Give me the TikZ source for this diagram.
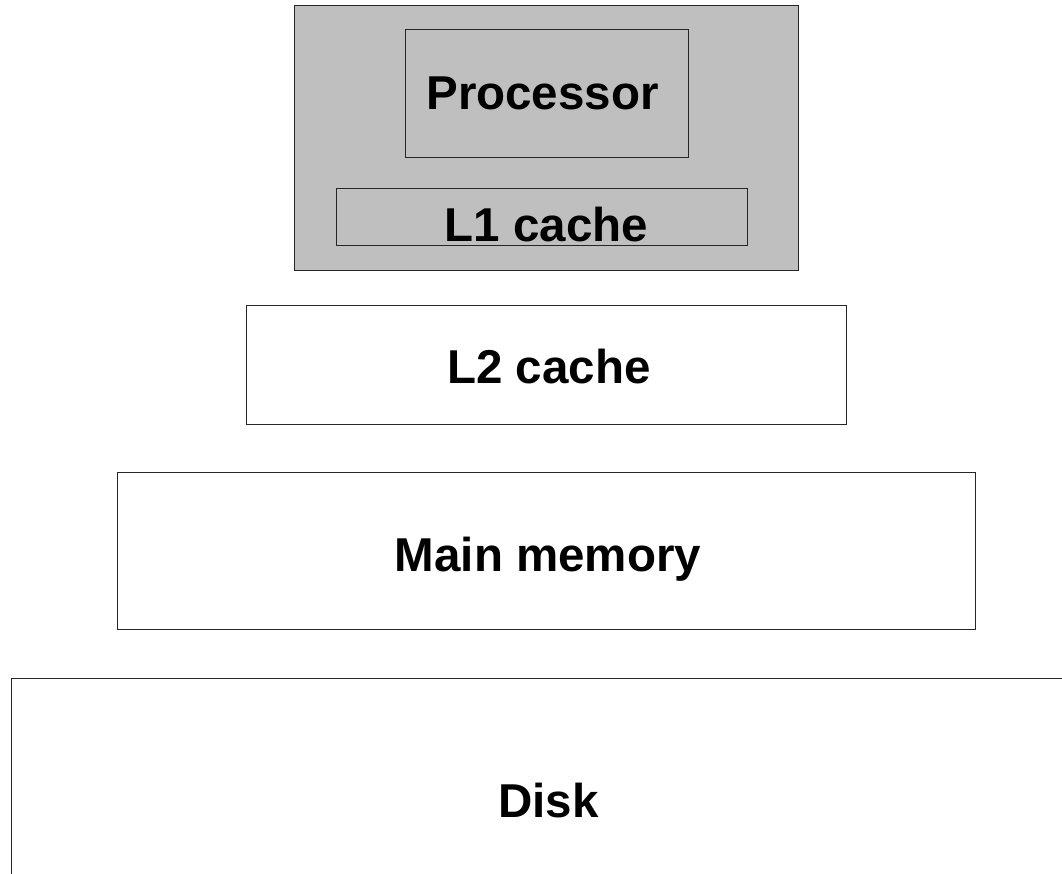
\documentclass[tikz,border=0pt]{standalone}
\usepackage{fontspec}
\setmainfont{Liberation Sans}
\begin{document}
\begin{tikzpicture}[x=1pt,y=-1pt,
  box/.style={draw=black!85,line width=1pt,rectangle,inner sep=0pt},
  greybox/.style={box,fill=black!25},
  lbl/.style={inner sep=0pt,font=\fontsize{47.5}{50}\selectfont\bfseries}]
\useasboundingbox (0,0) rectangle (1062,874);
\clip (0,0) rectangle (1062,874);
\node[greybox,minimum width=504pt,minimum height=265pt] (chip) at (546,138.5) {};
\node[box,minimum width=283pt,minimum height=128pt] (proc) at (546.5,94) {};
\node[box,minimum width=411pt,minimum height=57pt] (l1) at (541.5,217.5) {};
\node[box,minimum width=600pt,minimum height=118pt] (l2) at (546,365) {};
\node[box,minimum width=858pt,minimum height=157pt] (mem) at (546,550.5) {};
\node[box,minimum width=1074pt,minimum height=244pt] (disk) at (548.5,800) {};
\node[lbl,anchor=base] (tproc) at ([xshift=-4pt,yshift=-16pt]proc.center) {Processor};
\node[lbl,anchor=base] (tl1) at ([xshift=5pt,yshift=-24pt]l1.center) {L1 cache};
\node[lbl,anchor=base] (tl2) at ([xshift=3pt,yshift=-18pt]l2.center) {L2 cache};
\node[lbl,anchor=base] (tmem) at ([xshift=2pt,yshift=-21pt]mem.center) {Main memory};
\node[lbl,anchor=base] (tdisk) at ([xshift=0pt,yshift=-17pt]disk.center) {Disk};
\end{tikzpicture}
\end{document}
